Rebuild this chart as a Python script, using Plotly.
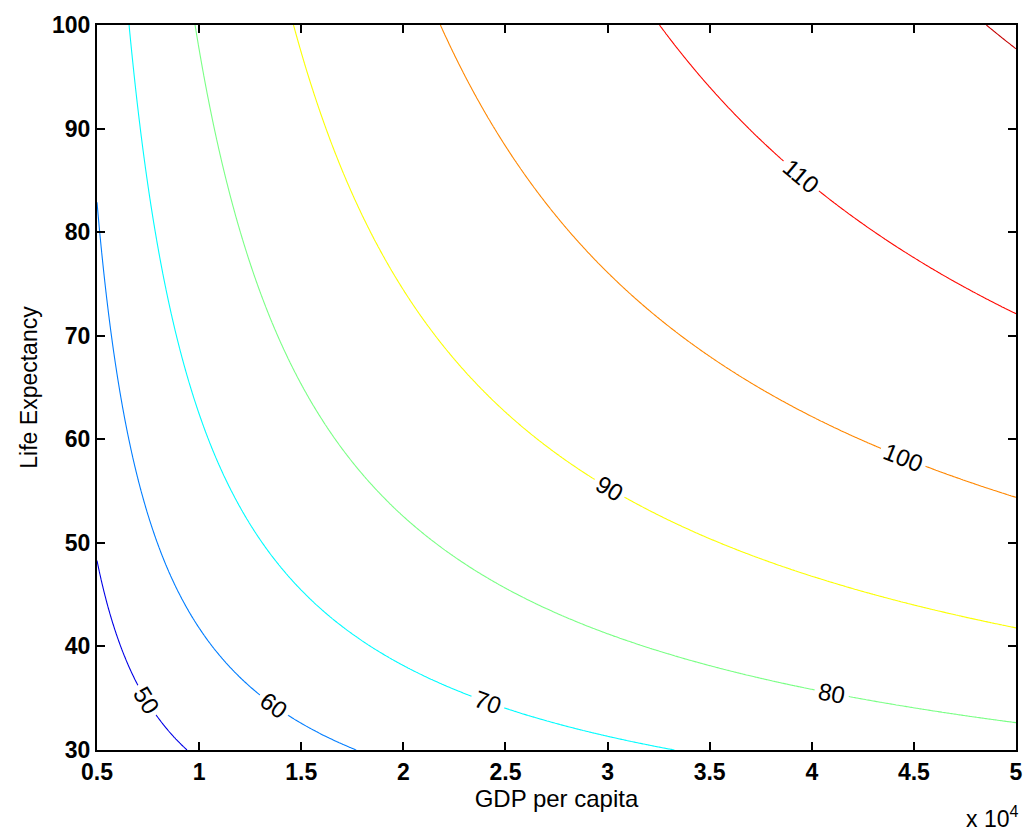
import numpy as np
import plotly.graph_objects as go

# --- data ---
gdp_ticks = [0.5, 1, 1.5, 2, 2.5, 3, 3.5, 4, 4.5, 5]          # GDP per capita, x 10^4
life_ticks = [30, 40, 50, 60, 70, 80, 90, 100]                  # Life expectancy
levels = [50, 60, 70, 80, 90, 100, 110, 120]                    # contour levels
level_colors = ["#0000e6", "#007dff", "#00fcff", "#7aff85",
                "#fbff04", "#ff8700", "#ff0800", "#c40000"]      # MATLAB jet line colours

# surface parameters estimated from the contour crossings in the picture
K_SCALE = 25.0
GDP_SHIFT = 3.22
LE_A = 2.0445
LE_B = 3.303

gdp = np.linspace(0.5, 5, 400)
life = np.linspace(30, 100, 400)
G, L = np.meshgrid(gdp, life)
Z = K_SCALE * (np.log(G) + GDP_SHIFT) * (LE_A - LE_B * L ** -0.25)

lo, hi = levels[0], levels[-1]
colorscale = [[(lv - lo) / (hi - lo), c] for lv, c in zip(levels, level_colors)]

FONT = "Liberation Sans, Arial, Helvetica"

fig = go.Figure(go.Contour(
    x=gdp, y=life, z=Z,
    zmin=lo, zmax=hi, zauto=False,
    colorscale=colorscale, showscale=False,
    contours=dict(start=lo, end=hi, size=10, coloring="lines", showlabels=True,
                  labelfont=dict(family=FONT, size=24, color="black")),
    line=dict(width=1.1),
    hoverinfo="skip",
))

axis_common = dict(showline=True, linecolor="black", linewidth=2, mirror="ticks",
                   ticks="inside", ticklen=8, tickwidth=2, tickcolor="black",
                   showgrid=False, zeroline=False,
                   tickfont=dict(family=FONT, size=23, color="black", weight="bold"))

fig.update_xaxes(range=[0.5, 5], tickvals=gdp_ticks,
                 ticktext=[f"{v:g}" for v in gdp_ticks],
                 title=dict(text="GDP per capita", font=dict(family=FONT, size=24, color="black"),
                            standoff=4),
                 **axis_common)
fig.update_yaxes(range=[30, 100], tickvals=life_ticks,
                 title=dict(text="Life Expectancy", font=dict(family=FONT, size=23, color="black"),
                            standoff=8),
                 **axis_common)

fig.add_annotation(x=1, y=0, xref="paper", yref="paper", xanchor="right", yanchor="top",
                   yshift=-50, xshift=4, showarrow=False,
                   text="x 10<sup>4</sup>",
                   font=dict(family=FONT, size=23, color="black"))

fig.update_layout(width=1035, height=831, margin=dict(l=97, r=12, t=21, b=81),
                  paper_bgcolor="white", plot_bgcolor="white", showlegend=False)

fig.write_html("out.html")
